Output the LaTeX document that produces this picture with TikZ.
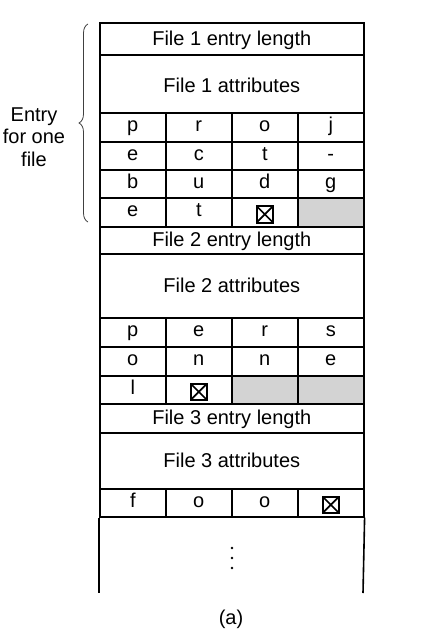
\documentclass[tikz,border=0pt]{standalone}
\usepackage{fontspec}
\setmainfont{Liberation Sans}
\usetikzlibrary{decorations.pathreplacing}
\definecolor{freegray}{RGB}{211,211,211}
\tikzset{
  box/.style={draw, line width=1.6pt, anchor=north west, inner sep=0pt,
    minimum width=264pt, text height=15pt, text depth=2pt,
    font=\fontsize{20}{23}\selectfont},
  cell/.style={box, minimum width=66pt, text height=12.5pt, text depth=4pt},
  free/.style={fill=freegray},
  endmark/.style={draw, line width=2pt, minimum size=16.5pt, inner sep=0pt, yshift=-2pt,
    path picture={\draw[line width=1.7pt]
      (path picture bounding box.north west) -- (path picture bounding box.south east)
      (path picture bounding box.north east) -- (path picture bounding box.south west);}},
}
\begin{document}
\begin{tikzpicture}[x=1pt, y=-1pt]
    \useasboundingbox (0,0) rectangle (428,634);

    % file 1
    \node [box, minimum height=32pt] (len1) at (99,22) {File 1 entry length};
    \node [box, minimum height=58pt, text height=20pt] (attr1) at (99,54) {File 1 attributes};
    \foreach \ch [count=\i from 0] in {p,r,o,j}
      \node [cell, minimum height=29pt] (a1\i) at (99+66*\i,112) {\ch};
    \foreach \ch [count=\i from 0] in {e,c,t,-}
      \node [cell, minimum height=28pt] (b1\i) at (99+66*\i,141) {\ch};
    \foreach \ch [count=\i from 0] in {b,u,d,g}
      \node [cell, minimum height=28pt] (c1\i) at (99+66*\i,169) {\ch};
    \foreach \ch [count=\i from 0] in {e,t}
      \node [cell, minimum height=29pt] (d1\i) at (99+66*\i,197) {\ch};
    \node [cell, minimum height=29pt] (d12) at (231,197) {};
    \node [endmark] (end1) at (d12.center) {};
    \node [cell, free, minimum height=29pt] (d13) at (297,197) {};

    % file 2
    \node [box, minimum height=27pt] (len2) at (99,226) {File 2 entry length};
    \node [box, minimum height=64pt] (attr2) at (99,253) {File 2 attributes};
    \foreach \ch [count=\i from 0] in {p,e,r,s}
      \node [cell, minimum height=29pt] (a2\i) at (99+66*\i,317) {\ch};
    \foreach \ch [count=\i from 0] in {o,n,n,e}
      \node [cell, minimum height=29pt] (b2\i) at (99+66*\i,346) {\ch};
    \node [cell, minimum height=28pt] (c20) at (99,375) {l};
    \node [cell, minimum height=28pt] (c21) at (165,375) {};
    \node [endmark] (end2) at (c21.center) {};
    \node [cell, free, minimum height=28pt] (c22) at (231,375) {};
    \node [cell, free, minimum height=28pt] (c23) at (297,375) {};

    % file 3
    \node [box, minimum height=29pt] (len3) at (99,403) {File 3 entry length};
    \node [box, minimum height=56pt] (attr3) at (99,432) {File 3 attributes};
    \foreach \ch [count=\i from 0] in {f,o,o}
      \node [cell, minimum height=28pt] (a3\i) at (99+66*\i,488) {\ch};
    \node [cell, minimum height=28pt] (a33) at (297,488) {};
    \node [endmark] (end3) at (a33.center) {};

    % open bottom
    \coordinate (lb) at (99,593);
    \coordinate (rb) at (363,593);
    \draw [line width=1.6pt] (a30.south west) -- (lb);
    \draw [line width=1.6pt] (a33.south east) -- (rb);
    \foreach \y in {548,558,568}
      \fill (232,\y) circle (1.3pt);

    % brace
    \coordinate (bb) at (88,222);
    \coordinate (bt) at (88,24);
    \draw [decorate, decoration={brace, amplitude=9pt}, line width=0.8pt, black!75] (bb) -- (bt);
    \node [align=center, font=\fontsize{20}{22.5}\selectfont] (entry) at (34,137) {Entry\\for one\\file};

    \node [font=\fontsize{20}{23}\selectfont] (cap) at (231,619) {(a)};
\end{tikzpicture}
\end{document}
